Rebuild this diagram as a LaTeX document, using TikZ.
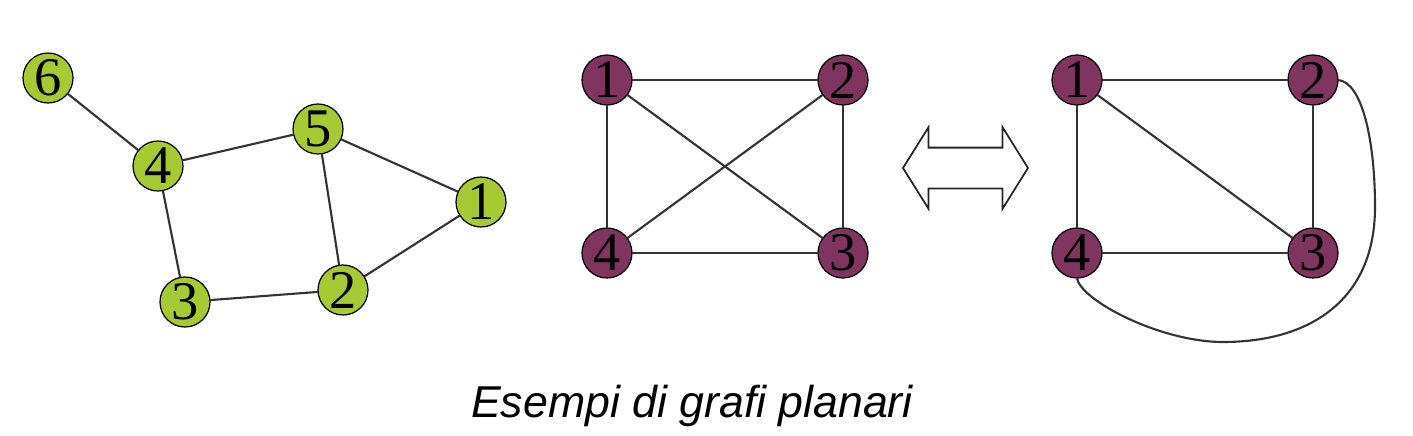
\documentclass[tikz,border=0pt]{standalone}
\usepackage{fontspec}
\setmainfont{Liberation Serif}
\setsansfont{Liberation Sans}
\usepackage{tikz}
\usepackage{tkz-graph}
\usetikzlibrary{shapes,arrows}
\definecolor{leafgreen}{RGB}{166,202,52}
\definecolor{vertexplum}{RGB}{128,52,96}
\newcommand{\greenvertex}[2]{
  \tikzstyle{VertexStyle}=[draw, circle, fill=leafgreen, line width=0.7pt,
                           minimum size=1cm, inner sep=0pt,
                           font=\fontsize{31}{31}\selectfont]
  \Vertex[#1]{#2}
}
\newcommand{\plumvertex}[2]{
  \tikzstyle{VertexStyle}=[draw, circle, fill=vertexplum, line width=0.7pt,
                           minimum size=1cm, inner sep=0pt,
                           font=\fontsize{31}{31}\selectfont]
  \Vertex[#1]{#2}
}
\tikzset{node distance = 2cm}

\begin{document}
\begin{tikzpicture}
  \useasboundingbox (0,0) rectangle (28.26,-8.72);
  % first graph
  \greenvertex{x=0.96,y=-1.56,L=6}{A6}
  \greenvertex{x=3.16,y=-3.32,L=4}{A4}
  \greenvertex{x=6.36,y=-2.58,L=5}{A5}
  \greenvertex{x=9.62,y=-4.04,L=1}{A1}
  \greenvertex{x=6.86,y=-5.80,L=2}{A2}
  \greenvertex{x=3.70,y=-6.04,L=3}{A3}
  \tikzstyle{EdgeStyle}=[draw, line width=1.2pt, black!80]
  \Edge(A6)(A4)
  \Edge(A4)(A5)
  \Edge(A4)(A3)
  \Edge(A5)(A1)
  \Edge(A5)(A2)
  \Edge(A1)(A2)
  \Edge(A3)(A2)
  % second graph
  \plumvertex{x=12.14,y=-1.60,L=1}{B1}
  \plumvertex{x=16.86,y=-1.60,L=2}{B2}
  \plumvertex{x=16.86,y=-5.06,L=3}{B3}
  \plumvertex{x=12.14,y=-5.06,L=4}{B4}
  \Edge(B1)(B2)
  \Edge(B1)(B4)
  \Edge(B1)(B3)
  \Edge(B4)(B2)
  \Edge(B4)(B3)
  \Edge(B2)(B3)
  % equivalence
  \node[double arrow, draw, line width=1pt, black!85,
        double arrow head extend=0.41cm, double arrow tip angle=116,
        minimum height=2.5cm, inner xsep=0pt, inner ysep=0.39cm] (EQ) at (19.31,-3.36) {};
  % third graph
  \plumvertex{x=21.54,y=-1.60,L=1}{C1}
  \plumvertex{x=26.26,y=-1.60,L=2}{C2}
  \plumvertex{x=26.26,y=-5.06,L=3}{C3}
  \plumvertex{x=21.54,y=-5.06,L=4}{C4}
  \Edge(C1)(C2)
  \Edge(C1)(C4)
  \Edge(C1)(C3)
  \Edge(C2)(C3)
  \Edge(C4)(C3)
  \draw[line width=1.2pt, black!80] (C2.east) .. controls (27.24,-1.64) and (27.50,-2.80) .. (27.50,-4.14)
    .. controls (27.50,-6.00) and (26.20,-6.84) .. (24.46,-6.84)
    .. controls (23.20,-6.84) and (21.60,-6.00) .. (C4.south);
  \node[anchor=base, font=\sffamily\itshape\fontsize{25.4}{30}\selectfont] (caption) at (13.84,-8.34)
    {Esempi di grafi planari};
\end{tikzpicture}
\end{document}
